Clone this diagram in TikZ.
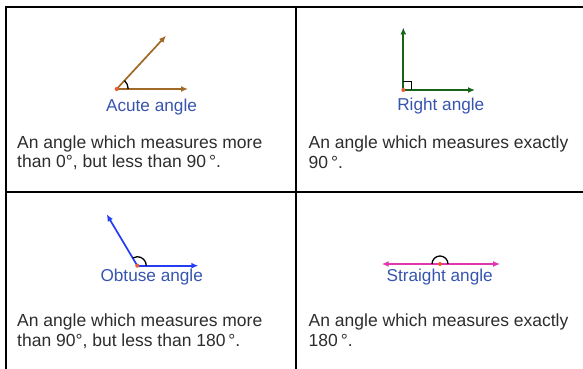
\documentclass[tikz,border=0pt]{standalone}
\usepackage{fontspec}
\setmainfont{Liberation Sans}
\usetikzlibrary{arrows.meta}
\definecolor{acutec}{RGB}{160,105,40}
\definecolor{rightc}{RGB}{25,100,25}
\definecolor{obtusec}{RGB}{35,60,245}
\definecolor{straightc}{RGB}{225,55,170}
\definecolor{labelc}{RGB}{55,85,175}
\definecolor{textc}{RGB}{45,45,45}
\definecolor{dotc}{RGB}{235,90,50}
\begin{document}
\begin{tikzpicture}[x=1pt,y=-1pt,
  ray/.style={line width=1.7pt,-{Latex[length=7pt,width=6pt]}},
  anglemark/.style={black,line width=1.3pt},
  vdot/.style={circle,fill=dotc,inner sep=0pt,minimum size=4pt},
  lbl/.style={anchor=base,inner sep=0pt,text=labelc,font=\fontsize{17.2}{19.5}\selectfont},
  body/.style={anchor=base west,inner sep=0pt,text=textc,font=\fontsize{17.5}{19.5}\selectfont},
  grid/.style={line width=2pt,black}]
\useasboundingbox (0,0) rectangle (583,369);
\fill[white] (0,0) rectangle (583,369);
% table
\coordinate (tl) at (6,7);
\coordinate (tr) at (590,7);
\coordinate (bl) at (6,375);
\coordinate (mt) at (295.5,7);
\coordinate (mb) at (295.5,375);
\coordinate (ml) at (6,192);
\coordinate (mr) at (590,192);
\draw[grid] (bl) -- (tl) -- (tr);
\draw[grid] (mt) -- (mb);
\draw[grid] (ml) -- (mr);
% acute
\coordinate (av) at (116.7,89);
\coordinate (ah) at (188,89);
\coordinate (au) at (166,35.7);
\draw[ray,acutec] (av) -- (ah);
\draw[ray,acutec] (av) -- (au);
\draw[anglemark] (av) ++(11.5,0) arc[start angle=0,end angle=-47,radius=11.5];
\node[vdot] (avd) at (av) {};
\node[lbl] (alab) at (151.5,111) {Acute angle};
\node[body] (at1) at (17,148) {An angle which measures more};
\node[body] (at2) at (17,167) {than 0°, but less than 90\,°.};
% right
\coordinate (rv) at (403.3,90);
\coordinate (rh) at (475,90);
\coordinate (ru) at (403.3,27.5);
\draw[ray,rightc] (rv) -- (rh);
\draw[ray,rightc] (rv) -- (ru);
\coordinate (rs1) at (403.3,81.5);
\coordinate (rs2) at (411.8,81.5);
\coordinate (rs3) at (411.8,90);
\draw[anglemark] (rs1) -- (rs2) -- (rs3);
\node[vdot] (rvd) at (rv) {};
\node[lbl] (rlab) at (440.8,110) {Right angle};
\node[body] (rt1) at (308.5,148) {An angle which measures exactly};
\node[body] (rt2) at (308.5,168) {90\,°.};
% obtuse
\coordinate (ov) at (137.3,265.7);
\coordinate (oh) at (198.3,265.7);
\coordinate (ou) at (106.7,214.3);
\draw[ray,obtusec] (ov) -- (oh);
\draw[ray,obtusec] (ov) -- (ou);
\draw[anglemark] (ov) ++(9,0) arc[start angle=0,end angle=-120.8,radius=9];
\node[vdot] (ovd) at (ov) {};
\node[lbl] (olab) at (151.7,281.7) {Obtuse angle};
\node[body] (ot1) at (17,326.7) {An angle which measures more};
\node[body] (ot2) at (17,346.7) {than 90°, but less than 180\,°.};
% straight
\coordinate (sv) at (440,264);
\coordinate (sr) at (500,264);
\coordinate (sl) at (381.7,264);
\draw[ray,straightc] (sv) -- (sr);
\draw[ray,straightc] (sv) -- (sl);
\draw[anglemark] (sv) ++(8,0) arc[start angle=0,end angle=-180,radius=8];
\node[vdot] (svd) at (sv) {};
\node[lbl] (slab) at (439.7,281.7) {Straight angle};
\node[body] (st1) at (308.5,326.7) {An angle which measures exactly};
\node[body] (st2) at (308.5,346.7) {180\,°.};
\end{tikzpicture}
\end{document}
